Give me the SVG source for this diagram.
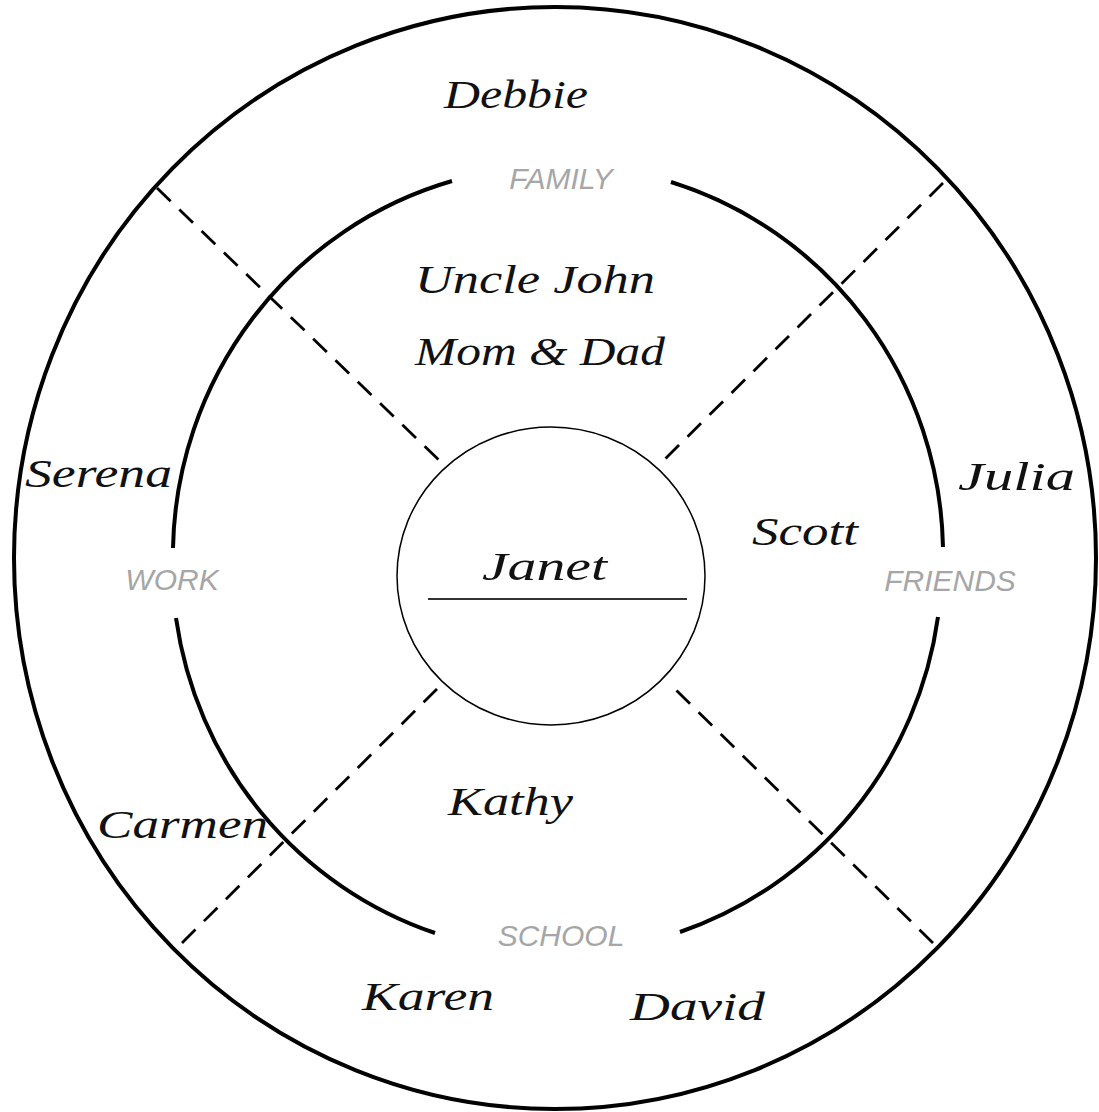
<svg xmlns="http://www.w3.org/2000/svg" width="1099" height="1112" viewBox="0 0 1099 1112">
<style>
.ring{fill:none;stroke:#000;stroke-width:4}
.dash{fill:none;stroke:#000;stroke-width:2.8;stroke-dasharray:19 12}
.name{font-family:"Liberation Serif","DejaVu Serif",serif;font-style:italic;font-size:40px;fill:#111}
.cat{font-family:"Liberation Sans","DejaVu Sans",sans-serif;font-style:italic;font-size:30px;fill:#a6a6a6;text-anchor:middle}
</style>
<rect width="1099" height="1112" fill="#fff"/>
<g id="outer-ring">
<ellipse class="ring" cx="555" cy="558" rx="541" ry="551"/>
</g>
<g id="inner-ring">
<path class="ring" d="M452,181 A385 390 0 0 0 173,548"/>
<path class="ring" d="M176,618 A385 390 0 0 0 435,933"/>
<path class="ring" d="M680,932 A385 390 0 0 0 938,617"/>
<path class="ring" d="M943,547 A385 390 0 0 0 671,182"/>
</g>
<g id="connectors">
<line class="dash" x1="157" y1="188" x2="444" y2="465"/>
<line class="dash" x1="943" y1="183" x2="658" y2="466"/>
<line class="dash" x1="182" y1="943" x2="437" y2="689"/>
<line class="dash" x1="933" y1="943" x2="671" y2="685"/>
</g>
<g id="center">
<ellipse cx="551" cy="576" rx="154" ry="149" fill="#fff" stroke="#000" stroke-width="1.5"/>
<text class="name" x="482" y="580" textLength="125" lengthAdjust="spacingAndGlyphs">Janet</text>
<line x1="428" y1="599" x2="687" y2="599" stroke="#333" stroke-width="2"/>
</g>
<g id="family">
<text class="cat" x="561" y="189">FAMILY</text>
<text class="name" x="444" y="108" textLength="144" lengthAdjust="spacingAndGlyphs">Debbie</text>
<text class="name" x="415" y="293" textLength="240" lengthAdjust="spacingAndGlyphs">Uncle John</text>
<text class="name" x="415" y="365" textLength="250" lengthAdjust="spacingAndGlyphs">Mom &amp; Dad</text>
</g>
<g id="work">
<text class="cat" x="172" y="590">WORK</text>
<text class="name" x="25" y="487" textLength="147" lengthAdjust="spacingAndGlyphs">Serena</text>
<text class="name" x="97" y="838" textLength="171" lengthAdjust="spacingAndGlyphs">Carmen</text>
</g>
<g id="friends">
<text class="cat" x="950" y="591">FRIENDS</text>
<text class="name" x="958" y="490" textLength="117" lengthAdjust="spacingAndGlyphs">Julia</text>
<text class="name" x="752" y="545" textLength="106" lengthAdjust="spacingAndGlyphs">Scott</text>
</g>
<g id="school">
<text class="cat" x="561" y="946">SCHOOL</text>
<text class="name" x="448" y="815" textLength="125" lengthAdjust="spacingAndGlyphs">Kathy</text>
<text class="name" x="362" y="1010" textLength="132" lengthAdjust="spacingAndGlyphs">Karen</text>
<text class="name" x="630" y="1020" textLength="135" lengthAdjust="spacingAndGlyphs">David</text>
</g>
</svg>
